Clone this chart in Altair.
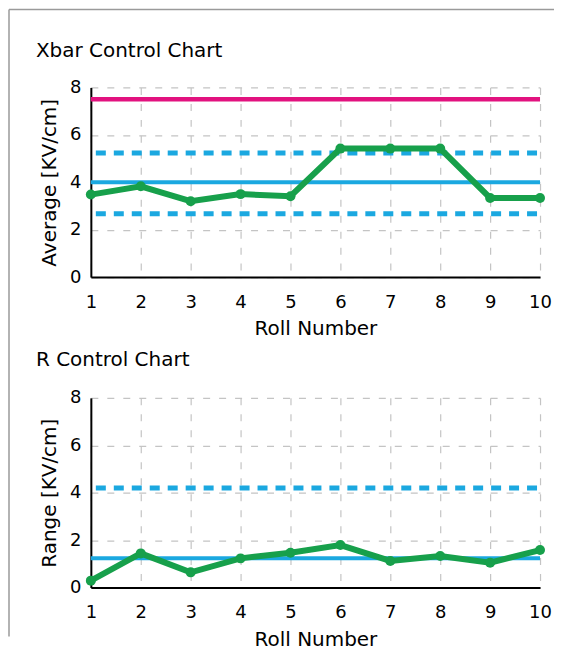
import altair as alt
import pandas as pd

rolls = [1, 2, 3, 4, 5, 6, 7, 8, 9, 10]
xbar_values = [3.48, 3.83, 3.2, 3.5, 3.41, 5.42, 5.42, 5.42, 3.34, 3.34]
range_values = [0.29, 1.44, 0.64, 1.23, 1.47, 1.79, 1.12, 1.33, 1.05, 1.58]

xbar_spec_limit = [7.5]
xbar_center = [4.0]
xbar_control_limits = [5.23, 2.67]
r_center = [1.23]
r_control_limits = [4.2]

titles = ["Xbar Control Chart", "R Control Chart"]
y_titles = ["Average [KV/cm]", "Range [KV/cm]"]
x_title = "Roll Number"
y_ticks = [0, 2, 4, 6, 8]

FONT = "DejaVu Sans"
GREEN = "#17a04b"
BLUE = "#1ba8e0"
PINK = "#e2127f"
FRAME = "#9a9a9a"
W, H = 450, 190


def panel(values, spec, center, limits, title, ytitle, border=False):
    df = pd.DataFrame({"roll": rolls, "value": values})
    x = alt.X("roll:Q", scale=alt.Scale(domain=[1, 10], nice=False),
              axis=alt.Axis(values=rolls, title=x_title, labelPadding=16,
                            labelFlush=False, titlePadding=8))
    y = alt.Y("value:Q", scale=alt.Scale(domain=[0, 8], nice=False),
              axis=alt.Axis(values=y_ticks, title=ytitle, labelPadding=10,
                            labelFlush=False, titlePadding=10))
    layers = []
    if spec:
        layers.append(alt.Chart(pd.DataFrame({"v": spec})).mark_rule(
            color=PINK, strokeWidth=4.5).encode(y=alt.Y("v:Q")))
    layers.append(alt.Chart(pd.DataFrame({"v": limits})).mark_rule(
        color=BLUE, strokeWidth=5, strokeDash=[10, 8], strokeDashOffset=-3).encode(y=alt.Y("v:Q")))
    layers.append(alt.Chart(pd.DataFrame({"v": center})).mark_rule(
        color=BLUE, strokeWidth=4).encode(y=alt.Y("v:Q")))
    layers.append(alt.Chart(df).mark_line(
        color=GREEN, strokeWidth=6,
        point=alt.OverlayMarkDef(color=GREEN, filled=True, size=100, opacity=1)
    ).encode(x=x, y=y))
    if border:
        layers.append(alt.Chart(pd.DataFrame({"b": [0]})).mark_rule(
            color=FRAME, strokeWidth=1.5).encode(
            x=alt.value(-82), x2=alt.value(464), y=alt.value(-78)))
        layers.append(alt.Chart(pd.DataFrame({"b": [0]})).mark_rule(
            color=FRAME, strokeWidth=1.5).encode(
            x=alt.value(-82), y=alt.value(-78), y2=alt.value(550)))
    return alt.layer(*layers).properties(
        width=W, height=H,
        title=alt.TitleParams(title, anchor="start", frame="group", dx=-55,
                              baseline="alphabetic",
                              offset=-68.5 if border else 3.3,
                              fontSize=20, fontWeight="normal", font=FONT,
                              color="black"),
    )


top = panel(xbar_values, xbar_spec_limit, xbar_center, xbar_control_limits,
            titles[0], y_titles[0], border=True)
bottom = panel(range_values, None, r_center, r_control_limits,
               titles[1], y_titles[1])

chart = alt.vconcat(top, bottom, spacing=121, bounds="flush").properties(
    padding={"left": 0, "top": 0, "right": 0, "bottom": 0}
).configure_view(stroke=None).configure_axis(
    labelFont=FONT, labelFontSize=18, labelColor="black",
    titleFont=FONT, titleFontSize=20, titleFontWeight="normal", titleColor="black",
    domainColor="black", domainWidth=2, ticks=False, tickSize=0,
    gridColor="#c4c4c4", gridDash=[7, 9], gridWidth=1.2,
).configure_axisY(labelAngle=0)

chart.save("out.html", embed_options={"renderer": "svg", "actions": False})
